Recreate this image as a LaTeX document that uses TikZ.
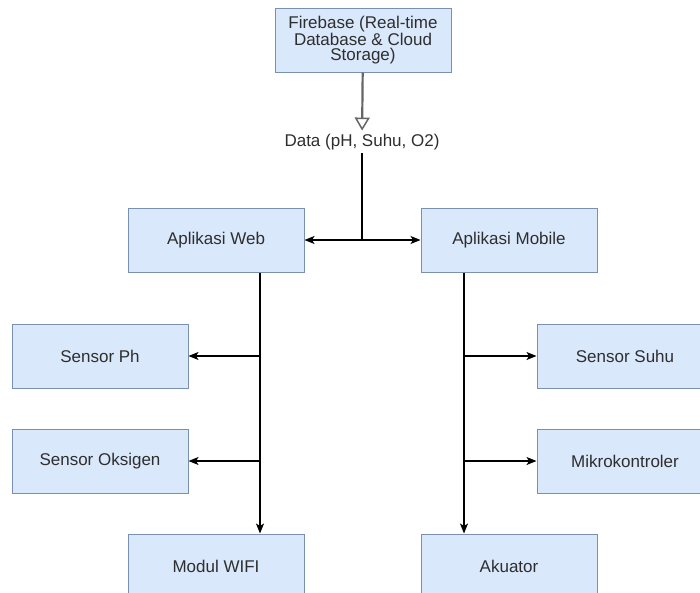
\documentclass[tikz,border=0pt]{standalone}
\usepackage{fontspec}
\setmainfont{Liberation Sans}
\usetikzlibrary{arrows.meta}
\definecolor{boxfill}{HTML}{DAE8FC}
\definecolor{boxline}{HTML}{7A90B0}
\definecolor{txt}{HTML}{2E2E2E}
\tikzset{
  blok/.style={draw=boxline,fill=boxfill,line width=1pt,minimum width=176pt,minimum height=64pt,
    text=txt,align=center,font=\fontsize{17}{15.5}\selectfont},
  garis/.style={line width=1.3pt,-{Stealth[length=10pt,width=8pt,inset=2.5pt]}}
}
\begin{document}
\begin{tikzpicture}[x=1pt,y=-1pt]
   \clip (0,0) rectangle (700,592);
   \fill[white] (0,0) rectangle (700,592);
   % kotak
   \node[blok] (firebase) at (363,40) {Firebase (Real-time\\Database \& Cloud\\Storage)};
   \node[text=txt,font=\fontsize{17}{17}\selectfont] (data) at (362,142) {Data (pH, Suhu, O2)};
   \node[blok] (web) at (216,240) {Aplikasi Web};
   \node[blok] (mobile) at (509,240) {Aplikasi Mobile};
   \node[blok] (ph) at (100,356) {Sensor Ph};
   \node[blok] (oksigen) at (100,461) {Sensor Oksigen};
   \node[blok] (suhu) at (625,356) {Sensor Suhu};
   \node[blok] (mikro) at (625,461) {Mikrokontroler};
   \node[blok] (wifi) at (216,566) {Modul WIFI};
   \node[blok] (akuator) at (509,566) {Akuator};
   \coordinate (cabang) at (362,240);
   \coordinate (kiri) at (260,0);
   \coordinate (kanan) at (464,0);
   \coordinate (k1) at (260,356);
   \coordinate (k2) at (260,461);
   \coordinate (n1) at (464,356);
   \coordinate (n2) at (464,461);
   % panah
   \draw[draw=black!60,line width=2.2pt,-{Triangle[open,length=13pt,width=15pt,line width=1.5pt]}] (firebase) -- (data);
   \draw[line width=1.3pt] (data) -- (cabang);
   \draw[garis] (cabang) -- (web);
   \draw[garis] (cabang) -- (mobile);
   \draw[garis] (web.south -| kiri) -- (wifi.north -| kiri);
   \draw[garis] (mobile.south -| kanan) -- (akuator.north -| kanan);
   \draw[garis] (k1) -- (ph);
   \draw[garis] (k2) -- (oksigen);
   \draw[garis] (n1) -- (suhu);
   \draw[garis] (n2) -- (mikro);
 \end{tikzpicture}
\end{document}
